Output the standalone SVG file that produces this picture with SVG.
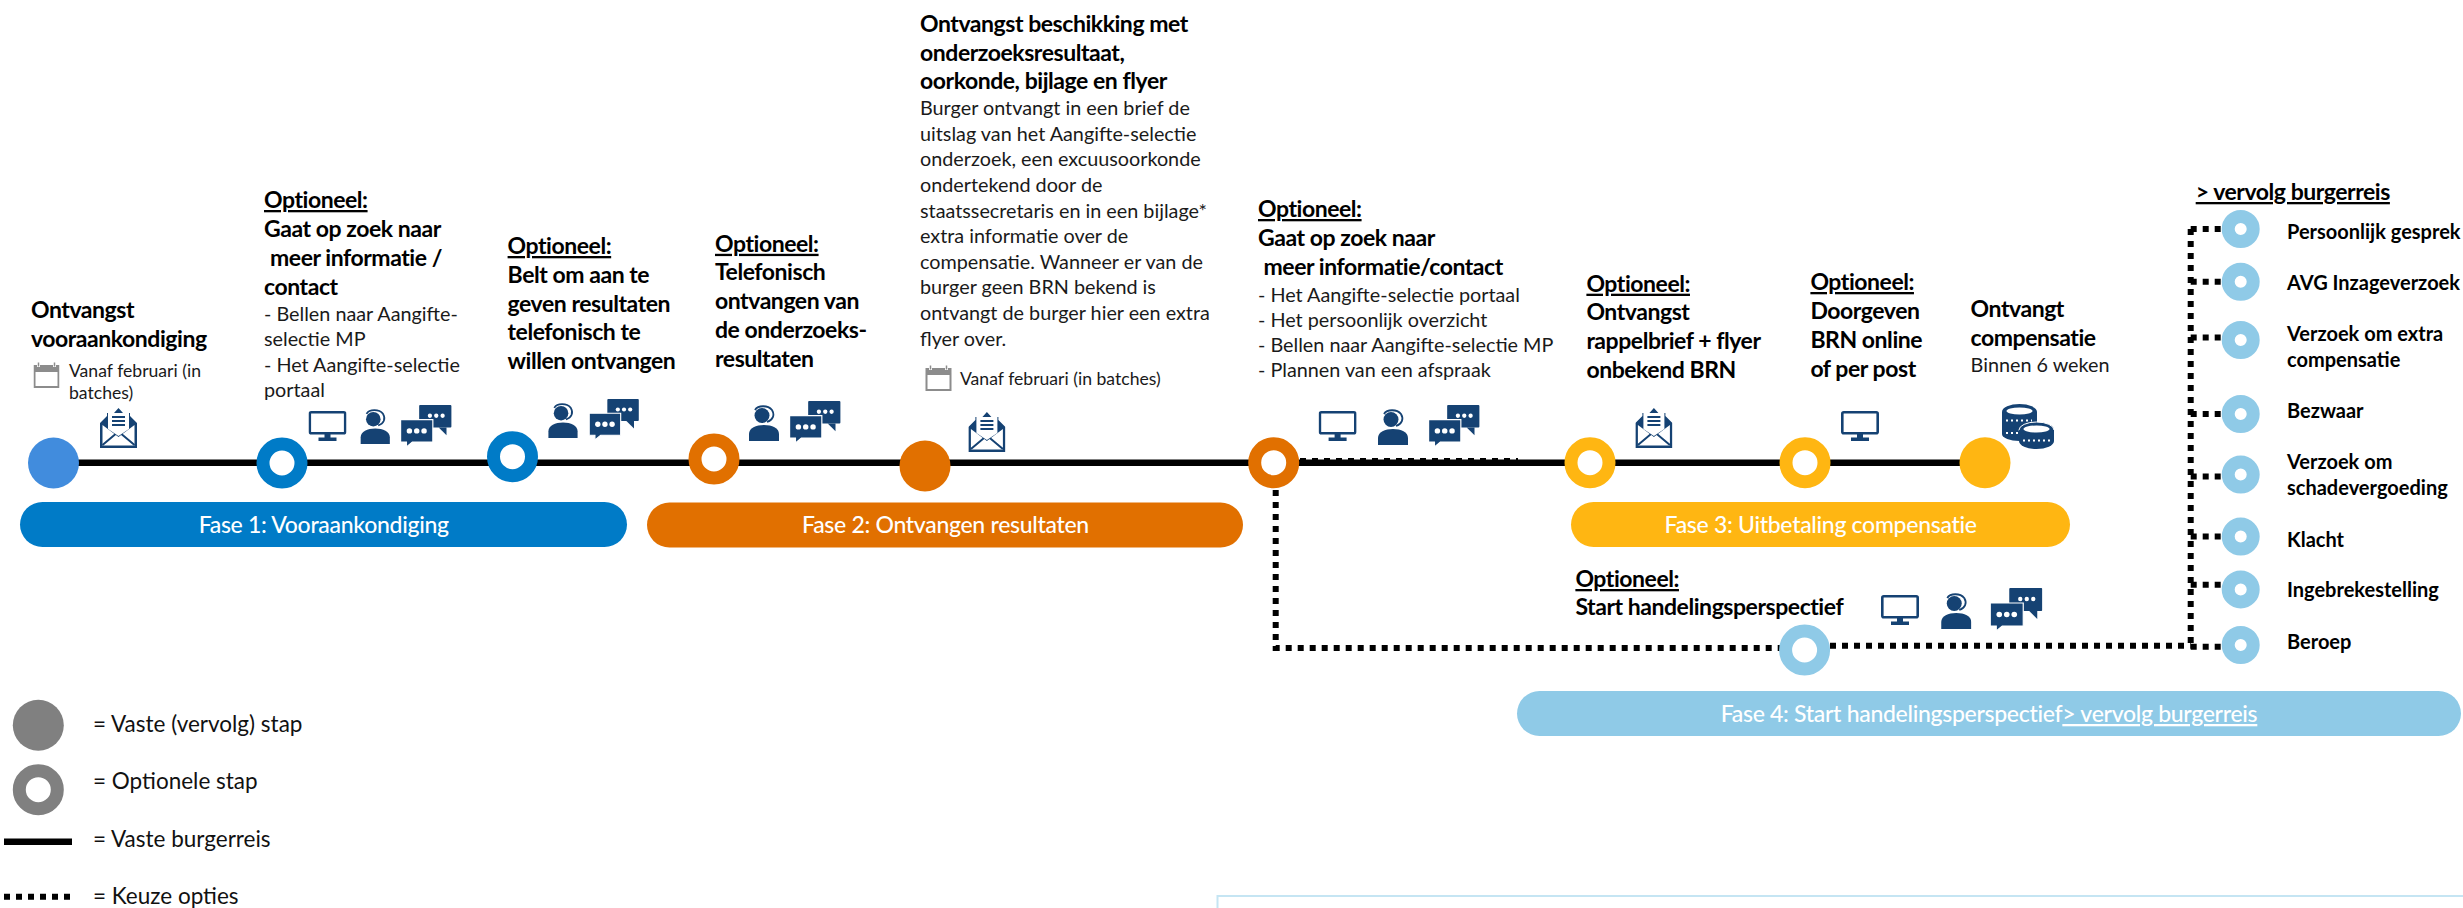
<svg xmlns="http://www.w3.org/2000/svg" xmlns:xlink="http://www.w3.org/1999/xlink" width="2463" height="908" viewBox="0 0 2463 908">
<style>
text{font-family:"Lato","Noto Sans",sans-serif;white-space:pre}
.h{font-size:23px;font-weight:700;fill:#000;letter-spacing:-.45px}
.u{text-decoration:underline}
.s{font-size:19.8px;fill:#1a1a1a}
.c{font-size:17.600px;fill:#1a1a1a}
.p{font-size:23px;fill:#fff;text-anchor:middle;font-weight:500;letter-spacing:-.3px}
.r{font-size:20px;font-weight:700;fill:#000}
.l{font-size:22.500px;fill:#111}
.ring{fill:#fff;stroke-width:13}
.mini{fill:#fff;stroke:#8fcae7;stroke-width:13}
.blue{stroke:#007bc7}.or{stroke:#e17000}.ye{stroke:#ffb612}.sky{stroke:#8fcae7}.gr{stroke:#808080}
.solid{fill:none;stroke:#000;stroke-width:6.5}
.dot{fill:none;stroke:#000;stroke-width:6;stroke-dasharray:6 6}
</style>
<defs>
<symbol id="monitor" viewBox="0 0 38 30"><rect x="1.3" y="1.3" width="35.4" height="21" rx="1.5" fill="none" stroke="#154273" stroke-width="2.6"/><rect x="16" y="23" width="6" height="4" fill="#154273"/><rect x="10" y="26.5" width="18" height="3.5" fill="#154273"/></symbol>
<symbol id="agent" viewBox="0 0 30 36"><path d="M0 36V29C0 23 7 20 15 20S30 23 30 29V36Z" fill="#154273"/><circle cx="13" cy="10.5" r="7.5" fill="#154273"/><path d="M6 5C9 0 19 0 23 5C26 10 24 15 18 17" fill="none" stroke="#154273" stroke-width="1.8"/></symbol>
<symbol id="chat" viewBox="0 0 52 43"><rect x="19" y="0" width="33" height="23" rx="1" fill="#154273"/><path d="M39 23H47V31Z" fill="#154273"/><circle cx="30" cy="11" r="2.2" fill="#fff"/><circle cx="36.500" cy="11" r="2.200" fill="#fff"/><circle cx="43" cy="11" r="2.200" fill="#fff"/><path d="M0 15H33V38H12L6 43V38H0Z" fill="#154273" stroke="#fff" stroke-width="1.200"/><circle cx="9" cy="26.500" r="2.800" fill="#fff"/><circle cx="16.500" cy="26.500" r="2.800" fill="#fff"/><circle cx="24" cy="26.500" r="2.800" fill="#fff"/></symbol>
<symbol id="mail" viewBox="0 0 37 41"><path d="M0 16L7 9V6H14L18.500 1L23 6H30V9L37 16V41H0Z" fill="#154273"/><path d="M2.500 18L18.500 30L34.500 18V38.500H2.500Z" fill="#fff"/><path d="M2.500 38L15 27.500Q18.500 25 22 27.500L34.500 38" fill="none" stroke="#154273" stroke-width="2"/><path d="M8 6H29V22L18.500 29L8 22Z" fill="#fff"/><path d="M12 10H25M12 14H25M12 18H25" stroke="#154273" stroke-width="2"/></symbol>
<symbol id="coins" viewBox="0 0 52 45"><ellipse cx="17.500" cy="8" rx="17.500" ry="8" fill="#154273"/><rect x="0" y="8" width="35" height="22" fill="#154273"/><ellipse cx="17.500" cy="30" rx="17.500" ry="7" fill="#154273"/><ellipse cx="17.500" cy="7" rx="13" ry="3.500" fill="#fff"/><path d="M4 16.500H30M4 29H18" stroke="#fff" stroke-width="2" stroke-dasharray="2 3"/><ellipse cx="34.500" cy="26" rx="17.500" ry="8" fill="#154273" stroke="#fff"/><rect x="17" y="26" width="35" height="11" fill="#154273"/><ellipse cx="34.500" cy="37" rx="17.500" ry="8" fill="#154273"/><ellipse cx="34.500" cy="25" rx="13" ry="3.500" fill="#fff"/><path d="M21 36.500H48" stroke="#fff" stroke-width="2" stroke-dasharray="2 3"/></symbol>
<symbol id="cal" viewBox="0 0 26 26"><path d="M0 3H26V8H0Z" fill="#8c8c8c"/><path d="M5 0V5M21 0V5" stroke="#fff" stroke-width="3"/><path d="M5 0.500V4.500M21 0.500V4.500" stroke="#8c8c8c" stroke-width="1.500"/><rect x="1" y="9" width="24" height="16" fill="none" stroke="#8c8c8c" stroke-width="2"/></symbol>
</defs>
<g id="connectors">
<path class="solid" d="M53 462.700H1985"/>
<path class="dot" d="M1300 461H1518" stroke-dasharray="6 4"/>
<path class="dot" d="M1275.700 490V648H1785"/>
<path class="dot" d="M1830 645.700H2190.700"/>
<path class="dot" d="M2190.700 229V646"/>
<path class="dot" d="M2190.700 229H2222M2190.700 281.700H2222M2190.700 337.600H2222M2190.700 414H2222M2190.700 476.500H2222M2190.700 536.600H2222M2190.700 584.800H2222M2190.700 646.800H2222"/>
</g>
<g id="fase1"><rect x="20" y="502" width="607" height="45" rx="22.500" fill="#007bc7"/><text class="p" x="323.700" y="532.700">Fase 1: Vooraankondiging</text></g>
<g id="fase2"><rect x="647" y="502.500" width="596" height="45" rx="22.500" fill="#e17000"/><text class="p" x="945.500" y="533">Fase 2: Ontvangen resultaten</text></g>
<g id="fase3"><rect x="1571" y="502" width="499" height="45" rx="22.500" fill="#ffb612"/><text class="p" x="1820.600" y="532.700">Fase 3: Uitbetaling compensatie</text></g>
<g id="fase4"><rect x="1517" y="691" width="944" height="45" rx="22.500" fill="#8fcae7"/><text class="p" x="1989" y="722">Fase 4: Start handelingsperspectief<tspan class="u">&gt; vervolg burgerreis</tspan></text></g>
<g id="stap1"><circle cx="53.500" cy="463" r="25.500" fill="#418cdd"/>
<text class="h" x="31" y="318">Ontvangst</text><text class="h" x="31" y="347">vooraankondiging</text>
<use href="#cal" x="33.500" y="362" width="26" height="26"/>
<text class="c" x="69" y="377">Vanaf februari (in</text><text class="c" x="69" y="399">batches)</text>
<use href="#mail" x="100" y="407" width="37" height="41"/></g>
<g id="stap2"><circle class="ring blue" cx="282" cy="463" r="19"/>
<text class="h u" x="264" y="208">Optioneel:</text><text class="h" x="264" y="237">Gaat op zoek naar</text><text class="h" x="270" y="266">meer informatie /</text><text class="h" x="264" y="295">contact</text>
<text class="s" x="264" y="321">- Bellen naar Aangifte-</text><text class="s" x="264" y="346">selectie MP</text><text class="s" x="264" y="372">- Het Aangifte-selectie</text><text class="s" x="264" y="397">portaal</text>
<use href="#monitor" x="308.500" y="411" width="38" height="30"/><use href="#agent" x="360" y="409" width="30.500" height="35"/><use href="#chat" x="400" y="405" width="52" height="42"/></g>
<g id="stap3"><circle class="ring blue" cx="512.500" cy="456.700" r="19"/>
<text class="h u" x="507.600" y="254">Optioneel:</text><text class="h" x="507.600" y="282.700">Belt om aan te</text><text class="h" x="507.600" y="311.700">geven resultaten</text><text class="h" x="507.600" y="340">telefonisch te</text><text class="h" x="507.600" y="369">willen ontvangen</text>
<use href="#agent" x="548" y="403" width="30" height="35"/><use href="#chat" x="588" y="399" width="52" height="41"/></g>
<g id="stap4"><circle class="ring or" cx="714" cy="459" r="19"/>
<text class="h u" x="715" y="251.800">Optioneel:</text><text class="h" x="715" y="280">Telefonisch</text><text class="h" x="715" y="309">ontvangen van</text><text class="h" x="715" y="338">de onderzoeks-</text><text class="h" x="715" y="367">resultaten</text>
<use href="#agent" x="749" y="405" width="30" height="36"/><use href="#chat" x="789" y="401" width="52" height="42"/></g>
<g id="stap5"><circle cx="925" cy="466" r="25.500" fill="#e17000"/>
<text class="h" x="920" y="32">Ontvangst beschikking met</text><text class="h" x="920" y="60.700">onderzoeksresultaat,</text><text class="h" x="920" y="89">oorkonde, bijlage en flyer</text>
<text class="s" x="920" y="115">Burger ontvangt in een brief de</text><text class="s" x="920" y="141">uitslag van het Aangifte-selectie</text><text class="s" x="920" y="166">onderzoek, een excuusoorkonde</text><text class="s" x="920" y="192">ondertekend door de</text><text class="s" x="920" y="218">staatssecretaris en in een bijlage*</text><text class="s" x="920" y="243">extra informatie over de</text><text class="s" x="920" y="269">compensatie. Wanneer er van de</text><text class="s" x="920" y="294">burger geen BRN bekend is</text><text class="s" x="920" y="320">ontvangt de burger hier een extra</text><text class="s" x="920" y="346">flyer over.</text>
<use href="#cal" x="925" y="365" width="27" height="26"/><text class="c" x="960" y="385">Vanaf februari (in batches)</text>
<use href="#mail" x="968.400" y="411" width="37" height="41"/></g>
<g id="stap6"><circle class="ring or" cx="1273.700" cy="462.700" r="19"/>
<text class="h u" x="1258" y="217">Optioneel:</text><text class="h" x="1258" y="246">Gaat op zoek naar</text><text class="h" x="1263.500" y="275">meer informatie/contact</text>
<text class="s" x="1258" y="301.700">- Het Aangifte-selectie portaal</text><text class="s" x="1258" y="326.700">- Het persoonlijk overzicht</text><text class="s" x="1258" y="352">- Bellen naar Aangifte-selectie MP</text><text class="s" x="1258" y="377">- Plannen van een afspraak</text>
<use href="#monitor" x="1318.600" y="411" width="38" height="30"/><use href="#agent" x="1378" y="409" width="30" height="36"/><use href="#chat" x="1428" y="405" width="52" height="42"/></g>
<g id="stap7"><circle class="ring ye" cx="1590" cy="462.700" r="19"/>
<text class="h u" x="1586.400" y="291.700">Optioneel:</text><text class="h" x="1586.400" y="320">Ontvangst</text><text class="h" x="1586.400" y="348.500">rappelbrief + flyer</text><text class="h" x="1586.400" y="377.700">onbekend BRN</text>
<use href="#mail" x="1635.400" y="407" width="37" height="41"/></g>
<g id="stap8"><circle class="ring ye" cx="1805" cy="462.700" r="19"/>
<text class="h u" x="1810.400" y="290">Optioneel:</text><text class="h" x="1810.400" y="318.700">Doorgeven</text><text class="h" x="1810.400" y="347.700">BRN online</text><text class="h" x="1810.400" y="376.700">of per post</text>
<use href="#monitor" x="1841" y="411" width="38" height="30"/></g>
<g id="stap9"><circle cx="1985" cy="462.700" r="25.500" fill="#ffb612"/>
<text class="h" x="1970.600" y="317">Ontvangt</text><text class="h" x="1970.600" y="345.700">compensatie</text><text class="s" x="1970.600" y="371.700">Binnen 6 weken</text>
<use href="#coins" x="2002" y="404" width="52" height="45"/></g>
<g id="stap10"><circle class="ring sky" cx="1804.600" cy="650" r="19"/>
<text class="h u" x="1575.400" y="587">Optioneel:</text><text class="h" x="1575.400" y="615">Start handelingsperspectief</text>
<use href="#monitor" x="1881" y="595" width="38" height="30"/><use href="#agent" x="1941" y="593" width="30.500" height="36"/><use href="#chat" x="1990" y="588" width="52.500" height="43"/></g>
<g id="vervolg"><text class="h u" x="2195.700" y="200">&gt; vervolg burgerreis</text></g>
<g id="o1"><circle class="mini" cx="2240.700" cy="229" r="12.500"/><text class="r" x="2287" y="238.500">Persoonlijk gesprek</text></g>
<g id="o2"><circle class="mini" cx="2240.700" cy="281.700" r="12.500"/><text class="r" x="2287" y="290">AVG Inzageverzoek</text></g>
<g id="o3"><circle class="mini" cx="2240.700" cy="340" r="12.500"/><text class="r" x="2287" y="341">Verzoek om extra</text><text class="r" x="2287" y="366.700">compensatie</text></g>
<g id="o4"><circle class="mini" cx="2240.700" cy="414" r="12.500"/><text class="r" x="2287" y="418">Bezwaar</text></g>
<g id="o5"><circle class="mini" cx="2240.700" cy="474.600" r="12.500"/><text class="r" x="2287" y="469">Verzoek om</text><text class="r" x="2287" y="495">schadevergoeding</text></g>
<g id="o6"><circle class="mini" cx="2240.700" cy="536.600" r="12.500"/><text class="r" x="2287" y="546.500">Klacht</text></g>
<g id="o7"><circle class="mini" cx="2240.700" cy="589.400" r="12.500"/><text class="r" x="2287" y="597.400">Ingebrekestelling</text></g>
<g id="o8"><circle class="mini" cx="2240.700" cy="645" r="12.500"/><text class="r" x="2287" y="648.700">Beroep</text></g>
<g id="legenda">
<circle cx="38.300" cy="725.300" r="25.500" fill="#808080"/><text class="l" x="93" y="731.700">= Vaste (vervolg) stap</text>
<circle class="ring gr" cx="38.300" cy="789.700" r="19"/><text class="l" x="93" y="789">= Optionele stap</text>
<path class="solid" d="M4 841.700H72"/><text class="l" x="93" y="846.500">= Vaste burgerreis</text>
<path class="dot" d="M4 896.700H71"/><text class="l" x="93" y="904">= Keuze opties</text>
</g>
<rect id="kader" x="1217.500" y="896" width="1260" height="40" fill="#fff" stroke="#c5e5f3" stroke-width="2"/>
</svg>
